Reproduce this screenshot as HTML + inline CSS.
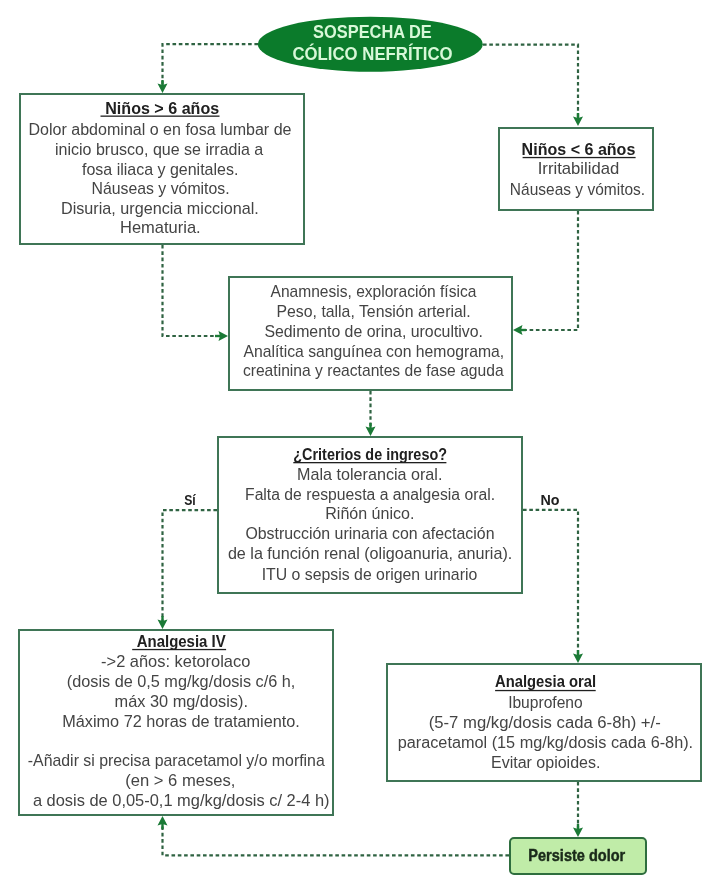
<!DOCTYPE html>
<html><head><meta charset="utf-8"><style>
html,body{margin:0;padding:0;background:#fff;}
svg{display:block;font-family:"Liberation Sans",sans-serif;will-change:transform;}
</style></head><body>
<svg width="720" height="896" viewBox="0 0 720 896">
<rect width="720" height="896" fill="#ffffff"/>
<ellipse cx="370.3" cy="44.2" rx="112.5" ry="27.5" fill="#0b7b2b"/>
<rect x="20.0" y="94.0" width="284" height="150" rx="0" fill="none" stroke="#3f7556" stroke-width="2"/>
<rect x="499.0" y="128.0" width="154" height="82" rx="0" fill="none" stroke="#3f7556" stroke-width="2"/>
<rect x="229.0" y="277.0" width="283" height="113" rx="0" fill="none" stroke="#3f7556" stroke-width="2"/>
<rect x="218.0" y="437.0" width="304" height="156" rx="0" fill="none" stroke="#3f7556" stroke-width="2"/>
<rect x="19.0" y="630.0" width="314" height="185" rx="0" fill="none" stroke="#3f7556" stroke-width="2"/>
<rect x="387.0" y="664.0" width="314" height="117" rx="0" fill="none" stroke="#3f7556" stroke-width="2"/>
<rect x="510.0" y="838.0" width="136" height="36" rx="4" fill="#c0eca8" stroke="#2e6e3e" stroke-width="2"/>
<path d="M258,44.2 L162.5,44.2 L162.5,85" fill="none" stroke="#2f6342" stroke-width="2.2" stroke-dasharray="3.6 2.7"/>
<polygon points="161.30,80.00 163.70,80.00 163.70,85.50 161.30,85.50" fill="#1b7a36"/>
<polygon points="162.50,93.00 157.50,83.50 162.50,85.00 167.50,83.50" fill="#1b7a36"/>
<path d="M483,44.6 L578,44.6 L578,117" fill="none" stroke="#2f6342" stroke-width="2.2" stroke-dasharray="3.6 2.7"/>
<polygon points="576.80,113.00 579.20,113.00 579.20,118.50 576.80,118.50" fill="#1b7a36"/>
<polygon points="578.00,126.00 573.00,116.50 578.00,118.00 583.00,116.50" fill="#1b7a36"/>
<path d="M162.5,245 L162.5,336 L219,336" fill="none" stroke="#2f6342" stroke-width="2.2" stroke-dasharray="3.6 2.7"/>
<polygon points="215.00,334.80 215.00,337.20 220.50,337.20 220.50,334.80" fill="#1b7a36"/>
<polygon points="228.00,336.00 218.50,331.00 220.00,336.00 218.50,341.00" fill="#1b7a36"/>
<path d="M578,211 L578,330 L522,330" fill="none" stroke="#2f6342" stroke-width="2.2" stroke-dasharray="3.6 2.7"/>
<polygon points="526.00,328.80 526.00,331.20 520.50,331.20 520.50,328.80" fill="#1b7a36"/>
<polygon points="513.00,330.00 522.50,325.00 521.00,330.00 522.50,335.00" fill="#1b7a36"/>
<path d="M370.5,391 L370.5,428" fill="none" stroke="#2f6342" stroke-width="2.2" stroke-dasharray="3.6 2.7"/>
<polygon points="369.30,423.00 371.70,423.00 371.70,428.50 369.30,428.50" fill="#1b7a36"/>
<polygon points="370.50,436.00 365.50,426.50 370.50,428.00 375.50,426.50" fill="#1b7a36"/>
<path d="M217,510.2 L162.5,510.2 L162.5,621" fill="none" stroke="#2f6342" stroke-width="2.2" stroke-dasharray="3.6 2.7"/>
<polygon points="161.30,616.00 163.70,616.00 163.70,621.50 161.30,621.50" fill="#1b7a36"/>
<polygon points="162.50,629.00 157.50,619.50 162.50,621.00 167.50,619.50" fill="#1b7a36"/>
<path d="M523,509.8 L578,509.8 L578,655" fill="none" stroke="#2f6342" stroke-width="2.2" stroke-dasharray="3.6 2.7"/>
<polygon points="576.80,650.00 579.20,650.00 579.20,655.50 576.80,655.50" fill="#1b7a36"/>
<polygon points="578.00,663.00 573.00,653.50 578.00,655.00 583.00,653.50" fill="#1b7a36"/>
<path d="M578,782 L578,829" fill="none" stroke="#2f6342" stroke-width="2.2" stroke-dasharray="3.6 2.7"/>
<polygon points="576.80,824.00 579.20,824.00 579.20,829.50 576.80,829.50" fill="#1b7a36"/>
<polygon points="578.00,837.00 573.00,827.50 578.00,829.00 583.00,827.50" fill="#1b7a36"/>
<path d="M509,855.3 L162.5,855.3 L162.5,824" fill="none" stroke="#2f6342" stroke-width="2.2" stroke-dasharray="3.6 2.7"/>
<polygon points="161.30,829.00 163.70,829.00 163.70,823.50 161.30,823.50" fill="#1b7a36"/>
<polygon points="162.50,816.00 157.50,825.50 162.50,824.00 167.50,825.50" fill="#1b7a36"/>
<text transform="translate(105.24,114.25) scale(1.0061,1)" font-size="16" font-weight="bold" fill="#202020">Niños &gt; 6 años</text>
<rect x="100.5" y="115.5" width="119.0" height="1.3" fill="#202020"/>
<text transform="translate(28.50,135) scale(1.0028,1)" font-size="16" fill="#444444">Dolor abdominal o en fosa lumbar de</text>
<text transform="translate(55.00,155) scale(1.0014,1)" font-size="16" fill="#444444">inicio brusco, que se irradia a</text>
<text transform="translate(82.00,175) scale(0.9994,1)" font-size="16" fill="#444444">fosa iliaca y genitales.</text>
<text transform="translate(91.51,193.75) scale(0.9901,1)" font-size="16" fill="#444444">Náuseas y vómitos.</text>
<text transform="translate(60.99,213.75) scale(1.0120,1)" font-size="16" fill="#444444">Disuria, urgencia miccional.</text>
<text transform="translate(119.97,232.5) scale(1.0316,1)" font-size="16" fill="#444444">Hematuria.</text>
<text transform="translate(521.60,154.8) scale(1.0047,1)" font-size="16" font-weight="bold" fill="#202020">Niños &lt; 6 años</text>
<rect x="522.6" y="156.9" width="113.0" height="1.3" fill="#202020"/>
<text transform="translate(537.71,174.1) scale(1.0431,1)" font-size="16" fill="#444444">Irritabilidad</text>
<text transform="translate(509.83,194.6) scale(0.9696,1)" font-size="16" fill="#444444">Náuseas y vómitos.</text>
<text transform="translate(270.60,297.2) scale(0.9733,1)" font-size="16" fill="#444444">Anamnesis, exploración física</text>
<text transform="translate(276.51,317.2) scale(0.9902,1)" font-size="16" fill="#444444">Peso, talla, Tensión arterial.</text>
<text transform="translate(264.40,336.75) scale(0.9921,1)" font-size="16" fill="#444444">Sedimento de orina, urocultivo.</text>
<text transform="translate(243.50,356.75) scale(0.9841,1)" font-size="16" fill="#444444">Analítica sanguínea con hemograma,</text>
<text transform="translate(242.90,375.9) scale(0.9777,1)" font-size="16" fill="#444444">creatinina y reactantes de fase aguda</text>
<text transform="translate(293.30,459.9) scale(0.9010,1)" font-size="16" font-weight="bold" fill="#202020">¿Criterios de ingreso?</text>
<rect x="293.3" y="462" width="153.09999999999997" height="1.3" fill="#202020"/>
<text transform="translate(297.09,479.7) scale(1.0090,1)" font-size="16" fill="#444444">Mala tolerancia oral.</text>
<text transform="translate(245.02,499.5) scale(0.9836,1)" font-size="16" fill="#444444">Falta de respuesta a analgesia oral.</text>
<text transform="translate(325.25,519.25) scale(1.0029,1)" font-size="16" fill="#444444">Riñón único.</text>
<text transform="translate(245.40,539) scale(0.9940,1)" font-size="16" fill="#444444">Obstrucción urinaria con afectación</text>
<text transform="translate(227.90,558.8) scale(1.0092,1)" font-size="16" fill="#444444">de la función renal (oligoanuria, anuria).</text>
<text transform="translate(261.71,579.7) scale(0.9904,1)" font-size="16" fill="#444444">ITU o sepsis de origen urinario</text>
<text transform="translate(136.70,646.7) scale(0.9364,1)" font-size="16" font-weight="bold" fill="#202020">Analgesia IV</text>
<rect x="132.2" y="648.9" width="93.9" height="1.3" fill="#202020"/>
<text transform="translate(101.10,666.7) scale(1.0273,1)" font-size="16" fill="#444444">-&gt;2 años: ketorolaco</text>
<text transform="translate(66.78,686.7) scale(1.0163,1)" font-size="16" fill="#444444">(dosis de 0,5 mg/kg/dosis c/6 h,</text>
<text transform="translate(114.58,706.7) scale(1.0213,1)" font-size="16" fill="#444444">máx 30 mg/dosis).</text>
<text transform="translate(62.28,726.7) scale(1.0154,1)" font-size="16" fill="#444444">Máximo 72 horas de tratamiento.</text>
<text transform="translate(27.80,765.6) scale(0.9914,1)" font-size="16" fill="#444444">-Añadir si precisa paracetamol y/o morfina</text>
<text transform="translate(125.16,785.6) scale(1.0379,1)" font-size="16" fill="#444444">(en &gt; 6 meses,</text>
<text transform="translate(32.90,805.6) scale(1.0270,1)" font-size="16" fill="#444444">a dosis de 0,05-0,1 mg/kg/dosis c/ 2-4 h)</text>
<text transform="translate(495.10,687.2) scale(0.9235,1)" font-size="16" font-weight="bold" fill="#202020">Analgesia oral</text>
<rect x="495.1" y="689.9" width="100.60000000000002" height="1.3" fill="#202020"/>
<text transform="translate(508.13,707.7) scale(0.9747,1)" font-size="16" fill="#444444">Ibuprofeno</text>
<text transform="translate(428.76,727.9) scale(1.0423,1)" font-size="16" fill="#444444">(5-7 mg/kg/dosis cada 6-8h) +/-</text>
<text transform="translate(397.68,747.7) scale(1.0161,1)" font-size="16" fill="#444444">paracetamol (15 mg/kg/dosis cada 6-8h).</text>
<text transform="translate(491.00,767.7) scale(1.0005,1)" font-size="16" fill="#444444">Evitar opioides.</text>
<text transform="translate(528.32,860.8) scale(0.8813,1)" font-size="16.5" font-weight="bold" fill="#1a2a1a" stroke="#1a2a1a" stroke-width="0.45">Persiste dolor</text>
<text transform="translate(184.25,505.4) scale(0.7856,1)" font-size="15.5" font-weight="bold" fill="#202020">Sí</text>
<text transform="translate(540.48,505.4) scale(0.9222,1)" font-size="15.5" font-weight="bold" fill="#202020">No</text>
<text transform="translate(313.10,37.6) scale(0.8632,1)" font-size="19" font-weight="bold" fill="#d8f8d8">SOSPECHA DE</text>
<text transform="translate(292.50,60.2) scale(0.8818,1)" font-size="19" font-weight="bold" fill="#d8f8d8">CÓLICO NEFRÍTICO</text>
</svg></body></html>
